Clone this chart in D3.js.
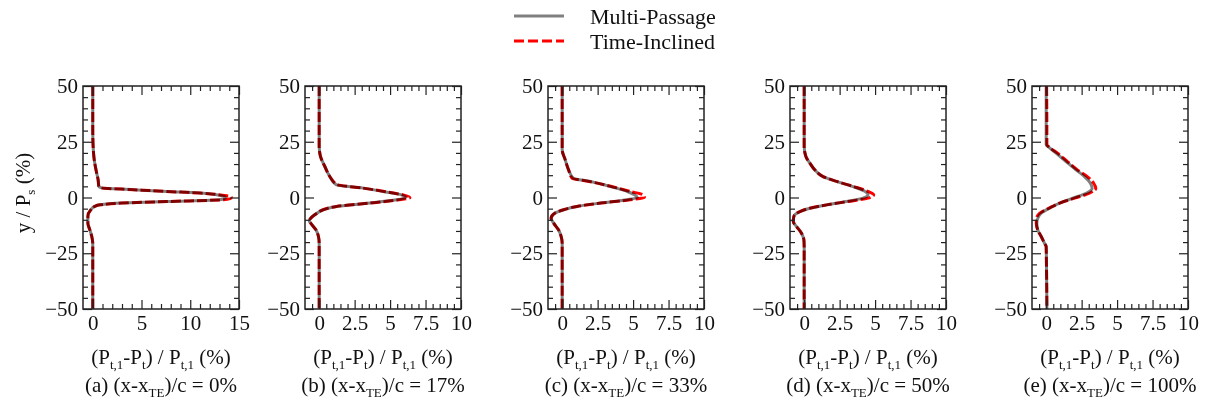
<!DOCTYPE html>
<html>
<head>
<meta charset="utf-8">
<script src="https://cdn.jsdelivr.net/npm/d3@7"></script>
<style>
  body { margin: 0; background: #fff; }
  svg { display: block; font-family: "Liberation Serif", "Times New Roman", serif; }
  .curve-ti { mix-blend-mode: multiply; }
</style>
</head>
<body>
<div id="chart"></div>
<script>
// profiles: x = total pressure loss (%), y = y/Ps (%)
const yA  = [50, 30, 22, 17, 11, 8, 5, 4.3, 3.5, 2.7, 2, 1, 0.3, -0.3, -1, -1.8, -2.5, -3.3, -4, -5.5, -8.5, -11.5, -14.5, -17.5, -20.5, -30, -50];
const mpA = [0, 0, 0.05, 0.15, 0.4, 0.55, 0.62, 0.9, 4.2, 7.6, 11, 13, 13.6, 13.6, 13.0, 7.6, 3.0, 0.75, 0.2, -0.2, -0.5, -0.5, -0.3, -0.1, 0, 0, 0];
const tiA = [0, 0, 0.05, 0.15, 0.4, 0.55, 0.62, 0.9, 4.2, 7.6, 11, 13.3, 14.2, 14.2, 13.4, 7.6, 3.0, 0.75, 0.2, -0.2, -0.5, -0.5, -0.3, -0.1, 0, 0, 0];

const yB  = [50, 30, 23, 18.4, 13.9, 9.4, 5.7, 4.2, 2.7, 1.2, 0, -1.05, -2.5, -4, -5.5, -7, -9.3, -10.5, -11.5, -14.5, -17.5, -20.5, -30, -50];
const mpB = [0, 0, 0, 0.09, 0.4, 0.75, 1.2, 3.1, 4.5, 5.8, 6.1, 5.45, 3.57, 1.22, 0.28, -0.14, -0.6, -0.7, -0.6, -0.23, -0.05, 0, 0, 0];
const tiB = [0, 0, 0, 0.09, 0.4, 0.75, 1.3, 3.1, 4.6, 5.9, 6.4, 5.6, 3.6, 1.22, 0.28, -0.14, -0.6, -0.7, -0.6, -0.23, -0.05, 0, 0, 0];

const yC  = [50, 30, 21.4, 17, 12.4, 8.6, 7.2, 4.9, 2.7, 1.2, 0, -1, -2.5, -4, -5.5, -7, -9.3, -11.5, -14.5, -17.5, -20.5, -30, -50];
const mpC = [0, 0, 0, 0.21, 0.45, 0.8, 2.0, 3.4, 4.6, 5.1, 5.3, 4.6, 2.7, 1.04, 0.1, -0.5, -0.78, -0.6, -0.26, -0.07, 0, 0, 0];
const tiC = [0, 0, 0, 0.21, 0.45, 0.7, 1.9, 3.5, 4.8, 5.7, 5.8, 4.8, 2.75, 1.04, 0.1, -0.5, -0.78, -0.6, -0.26, -0.07, 0, 0, 0];

const yD  = [50, 30, 22.9, 18.4, 15.4, 12.4, 9.4, 7.2, 4.9, 2.7, 1.2, -0.3, -1.8, -3.3, -4.8, -6.3, -8.5, -10.8, -13, -16, -19, -22, -30, -50];
const mpD = [0, 0, 0, 0.12, 0.4, 0.75, 1.33, 2.27, 3.44, 4.3, 4.5, 4.15, 2.97, 1.57, 0.4, -0.3, -0.73, -0.77, -0.54, -0.19, -0.02, 0, 0, 0];
const tiD = [0, 0, 0, 0.12, 0.4, 0.75, 1.33, 2.3, 3.5, 4.5, 4.9, 4.5, 3.05, 1.6, 0.4, -0.3, -0.73, -0.77, -0.54, -0.19, -0.02, 0, 0, 0];

const yE  = [50, 30, 23.6, 22.9, 19.9, 16.1, 12.4, 9.4, 6.4, 4.2, 1.9, -0.3, -2.5, -4.8, -7, -9.3, -11.5, -14.5, -17.5, -20.5, -22, -30, -50];
const mpE = [0, 0, 0, 0.12, 0.7, 1.4, 2.1, 2.7, 3.12, 3.24, 2.82, 1.88, 0.94, 0.23, -0.35, -0.59, -0.66, -0.59, -0.35, -0.12, 0, 0.02, 0.05];
const tiE = [0.03, 0.05, 0.05, 0.15, 0.8, 1.5, 2.2, 2.9, 3.35, 3.5, 3.05, 2.0, 0.95, 0.2, -0.45, -0.68, -0.7, -0.6, -0.35, -0.12, 0, 0.02, 0.05];

const panelY  = [yA, yB, yC, yD, yE];
const panelMP = [mpA, mpB, mpC, mpD, mpE];
const panelTI = [tiA, tiB, tiC, tiD, tiE];

const captionLetters = ["a", "b", "c", "d", "e"];
const captionPos = ["0", "17", "33", "50", "100"];
const xTicksA = [0, 5, 10, 15];
const xTicksB = [0, 2.5, 5, 7.5, 10];
const yTicks = [-50, -25, 0, 25, 50];
const seriesNames = ["Multi-Passage", "Time-Inclined"];

// layout
const W = 1219, H = 407;
const plotTop = 86, plotBottom = 309;
const panelLeft = [83, 305, 548, 790, 1032];
const panelW = 156;
const grey = "#808080", red = "#ff0000";

const svg = d3.select("#chart").append("svg")
  .attr("width", W).attr("height", H);

// text with subscripts: parts = [[text, isSub], ...]
function richText(el, parts, size) {
  el.attr("font-size", size);
  let shift = 0; // current baseline offset
  parts.forEach(([t, sub]) => {
    const want = sub ? size * 0.22 : 0;
    el.append("tspan")
      .attr("font-size", sub ? size * 0.62 : size)
      .attr("dy", want - shift)
      .text(t);
    shift = want;
  });
  return el;
}

const y = d3.scaleLinear().domain([-50, 50]).range([plotBottom, plotTop]);

panelY.forEach((ys, i) => {
  const L = panelLeft[i], R = L + panelW;
  const first = i === 0;
  const xDom = first ? [-1, 15] : [-1, 10];
  const xTicks = first ? xTicksA : xTicksB;
  const minorStep = first ? 1 : 0.5;
  const x = d3.scaleLinear().domain(xDom).range([L, R]);
  const g = svg.append("g");

  const minorX = d3.range(first ? -1 : -0.5, xDom[1] + 1e-9, minorStep)
    .filter(v => !xTicks.includes(v) && v > xDom[0]);
  const minorY = d3.range(-50, 50.1, 5).filter(v => !yTicks.includes(v));

  // curves first, frame on top
  const mk = xs => ys.map((v, k) => [xs[k], v]);
  const line = d3.line().x(d => x(d[0])).y(d => y(d[1])).curve(d3.curveMonotoneY);
  g.append("path").datum(mk(panelMP[i]))
    .attr("d", line).attr("fill", "none")
    .attr("stroke", grey).attr("stroke-width", 3);
  g.append("path").datum(mk(panelTI[i]))
    .attr("class", "curve-ti")
    .attr("d", line).attr("fill", "none")
    .attr("stroke", red).attr("stroke-width", 3)
    .attr("stroke-dasharray", "10,3");

  const styleAxis = a => {
    a.select(".domain").remove();
    a.selectAll("line").attr("stroke", "#222").attr("stroke-width", 1.2);
    a.selectAll("text").attr("font-size", 21).attr("fill", "#111")
      .attr("font-family", "Liberation Serif, serif");
  };

  // y axes (labels only on left)
  g.append("g").attr("transform", `translate(${L},0)`)
    .call(d3.axisLeft(y).tickValues(yTicks).tickSize(-9).tickPadding(5).tickFormat(d3.format("d")))
    .call(styleAxis);
  g.append("g").attr("transform", `translate(${L},0)`)
    .call(d3.axisLeft(y).tickValues(minorY).tickSize(-5).tickFormat(""))
    .call(styleAxis);
  g.append("g").attr("transform", `translate(${R},0)`)
    .call(d3.axisRight(y).tickValues(yTicks).tickSize(-9).tickFormat(""))
    .call(styleAxis);
  g.append("g").attr("transform", `translate(${R},0)`)
    .call(d3.axisRight(y).tickValues(minorY).tickSize(-5).tickFormat(""))
    .call(styleAxis);

  // x axes
  g.append("g").attr("transform", `translate(0,${plotBottom})`)
    .call(d3.axisBottom(x).tickValues(xTicks).tickSize(-9).tickPadding(6).tickFormat(d => String(d)))
    .call(styleAxis);
  g.append("g").attr("transform", `translate(0,${plotBottom})`)
    .call(d3.axisBottom(x).tickValues(minorX).tickSize(-5).tickFormat(""))
    .call(styleAxis);
  g.append("g").attr("transform", `translate(0,${plotTop})`)
    .call(d3.axisTop(x).tickValues(xTicks).tickSize(-9).tickFormat(""))
    .call(styleAxis);
  g.append("g").attr("transform", `translate(0,${plotTop})`)
    .call(d3.axisTop(x).tickValues(minorX).tickSize(-5).tickFormat(""))
    .call(styleAxis);

  // frame
  g.append("rect").attr("x", L).attr("y", plotTop)
    .attr("width", panelW).attr("height", plotBottom - plotTop)
    .attr("fill", "none").attr("stroke", "#222").attr("stroke-width", 1.5);

  const cx = (L + R) / 2;
  richText(g.append("text").attr("x", cx).attr("y", 364).attr("text-anchor", "middle").attr("fill", "#111"),
    [["(P"], ["t,1", true], ["-P"], ["t", true], [") / P"], ["t,1", true], [" (%)"]], 21);
  richText(g.append("text").attr("x", cx).attr("y", 392).attr("text-anchor", "middle").attr("fill", "#111"),
    [[`(${captionLetters[i]}) (x-x`], ["TE", true], [`)/c = ${captionPos[i]}%`]], 21);
});

// y axis title
richText(svg.append("text")
  .attr("transform", `translate(30,193) rotate(-90)`)
  .attr("text-anchor", "middle").attr("fill", "#111"),
  [["y / P"], ["s", true], [" (%)"]], 21);

// legend
const leg = svg.append("g");
seriesNames.forEach((name, k) => {
  const ly = 16 + k * 25;
  leg.append("line").attr("x1", 514).attr("x2", 564).attr("y1", ly).attr("y2", ly)
    .attr("stroke", k ? red : grey).attr("stroke-width", 3)
    .attr("stroke-dasharray", k ? "10,4" : null);
  leg.append("text").attr("x", 590).attr("y", ly + 8)
    .attr("font-size", 22).attr("fill", "#111").text(name);
});
</script>
</body>
</html>
